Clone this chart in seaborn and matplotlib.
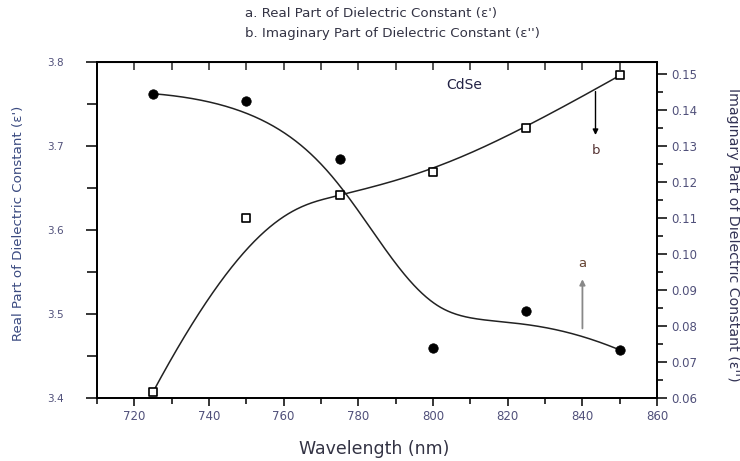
import numpy as np
import pandas as pd
import matplotlib
matplotlib.use("Agg")
import matplotlib.pyplot as plt
import seaborn as sns
from matplotlib.ticker import MultipleLocator, FormatStrFormatter

# ---- data ----
wavelength = [725, 750, 775, 800, 825, 850]
real_part = [3.762, 3.753, 3.684, 3.459, 3.503, 3.457]
imag_part = [0.0616, 0.1098, 0.1163, 0.1226, 0.1349, 0.1495]
x_ticks = [720, 740, 760, 780, 800, 820, 840, 860]
left_ticks = [3.4, 3.5, 3.6, 3.7, 3.8]
right_ticks = [0.06, 0.07, 0.08, 0.09, 0.10, 0.11, 0.12, 0.13, 0.14, 0.15]


def bspline(xs, ys, n=400, k=3):
    """Clamped cubic B-spline using the data points as control points."""
    P = np.column_stack([xs, ys]).astype(float)
    m = len(P)
    inner = np.linspace(0, 1, m - k + 1)
    t = np.concatenate([[0.0] * k, inner, [1.0] * k])
    u = np.linspace(0, 1, n)
    nk = len(t) - 1
    B = np.zeros((n, nk))
    for i in range(nk):
        B[:, i] = ((u >= t[i]) & (u < t[i + 1])).astype(float)
    last = max(i for i in range(nk) if t[i] < t[i + 1])
    B[u >= 1.0, :] = 0
    B[u >= 1.0, last] = 1
    for p in range(1, k + 1):
        Bn = np.zeros((n, nk - p))
        for i in range(nk - p):
            d1 = t[i + p] - t[i]
            d2 = t[i + p + 1] - t[i + 1]
            a = (u - t[i]) / d1 * B[:, i] if d1 > 0 else 0
            b = (t[i + p + 1] - u) / d2 * B[:, i + 1] if d2 > 0 else 0
            Bn[:, i] = a + b
        B = Bn
    C = B @ P
    return C[:, 0], C[:, 1]


sns.set_style("ticks")
plt.rcParams["font.family"] = ["DejaVu Sans"]

fig = plt.figure(figsize=(7.4, 4.61), dpi=100)
ax = fig.add_axes([0.131, 0.137, 0.757, 0.729])
ax2 = ax.twinx()

pts = pd.DataFrame({"wavelength": wavelength, "real": real_part, "imag": imag_part})
rx, ry = bspline(wavelength, real_part)
ix, iy = bspline(wavelength, imag_part)
curve_r = pd.DataFrame({"x": rx, "y": ry})
curve_i = pd.DataFrame({"x": ix, "y": iy})

sns.lineplot(data=curve_r, x="x", y="y", sort=False, ax=ax, color="#222222", lw=1.1)
sns.scatterplot(data=pts, x="wavelength", y="real", ax=ax, color="black",
                marker="o", s=46, edgecolor="black", zorder=5)

sns.lineplot(data=curve_i, x="x", y="y", sort=False, ax=ax2, color="#222222", lw=1.1)
ax2.scatter(pts["wavelength"], pts["imag"], marker="s", s=30,
            facecolor="white", edgecolor="black", linewidth=1.2, zorder=5)

ax.set_xlim(710, 860)
ax.set_ylim(3.4, 3.8)
ax2.set_ylim(0.06, 0.1533)

ax.set_xticks(x_ticks)
ax.set_yticks(left_ticks)
ax2.set_yticks(right_ticks)
ax.xaxis.set_minor_locator(MultipleLocator(10))
ax.yaxis.set_minor_locator(MultipleLocator(0.05))
ax2.yaxis.set_minor_locator(MultipleLocator(0.005))
ax.yaxis.set_major_formatter(FormatStrFormatter("%.1f"))
ax2.yaxis.set_major_formatter(FormatStrFormatter("%.2f"))

lab_col = "#50507a"
ax.tick_params(axis="x", which="both", direction="out", top=False, labelsize=8.5,
               labelcolor=lab_col, width=1.1, color="black", pad=3)
ax.tick_params(axis="x", which="major", length=6)
ax.tick_params(axis="x", which="minor", length=4)
ax.tick_params(axis="y", which="both", direction="out", labelsize=7.5,
               labelcolor=lab_col, width=1.1, color="black", pad=16)
ax.tick_params(axis="y", which="major", length=8)
ax.tick_params(axis="y", which="minor", length=7)
ax2.tick_params(axis="y", which="both", direction="out", labelsize=8.5,
                labelcolor=lab_col, width=1.1, color="black", pad=3)
ax2.tick_params(axis="y", which="major", length=7)
ax2.tick_params(axis="y", which="minor", length=4)

for a in (ax, ax2):
    for s in a.spines.values():
        s.set_visible(True)
        s.set_linewidth(1.3)
        s.set_color("black")

# top ticks pointing inward without labels
secx = ax.secondary_xaxis("top")
secx.set_xticks(np.arange(710, 861, 10))
secx.tick_params(axis="x", direction="in", length=6, width=1.1, labeltop=False)

ax.set_xlabel("")
ax.set_ylabel("")
ax2.set_ylabel("")

fig.text(0.506, 0.026, "Wavelength (nm)", ha="center", va="center",
         fontsize=12.5, color="#333344")
fig.text(0.025, 0.516, "Real Part of Dielectric Constant (ε')", rotation=90,
         ha="center", va="center", fontsize=9.6, color="#3a4a80")
fig.text(0.990, 0.49, "Imaginary Part of Dielectric Constant (ε'')", rotation=-90,
         ha="center", va="center", fontsize=10.2, color="#333355")

fig.text(0.331, 0.970, "a. Real Part of Dielectric Constant (ε')", ha="left",
         va="center", fontsize=9.6, color="#333344")
fig.text(0.331, 0.928, "b. Imaginary Part of Dielectric Constant (ε'')", ha="left",
         va="center", fontsize=9.6, color="#333344")

ax.text(0.655, 0.93, "CdSe", transform=ax.transAxes, ha="center", va="center",
        fontsize=10, color="#222244")

ax2.annotate("", xy=(843.5, 0.1322), xytext=(843.5, 0.1458),
             arrowprops=dict(arrowstyle="-|>", color="black", lw=1, mutation_scale=8))
ax2.text(843.5, 0.1286, "b", ha="center", va="center", fontsize=9.5, color="#553333")
ax2.annotate("", xy=(840, 0.0937), xytext=(840, 0.0785),
             arrowprops=dict(arrowstyle="-|>", color="#888888", lw=1.3, mutation_scale=8))
ax2.text(840, 0.0972, "a", ha="center", va="center", fontsize=9.5, color="#664433")

fig.savefig("out.png", dpi=100)
